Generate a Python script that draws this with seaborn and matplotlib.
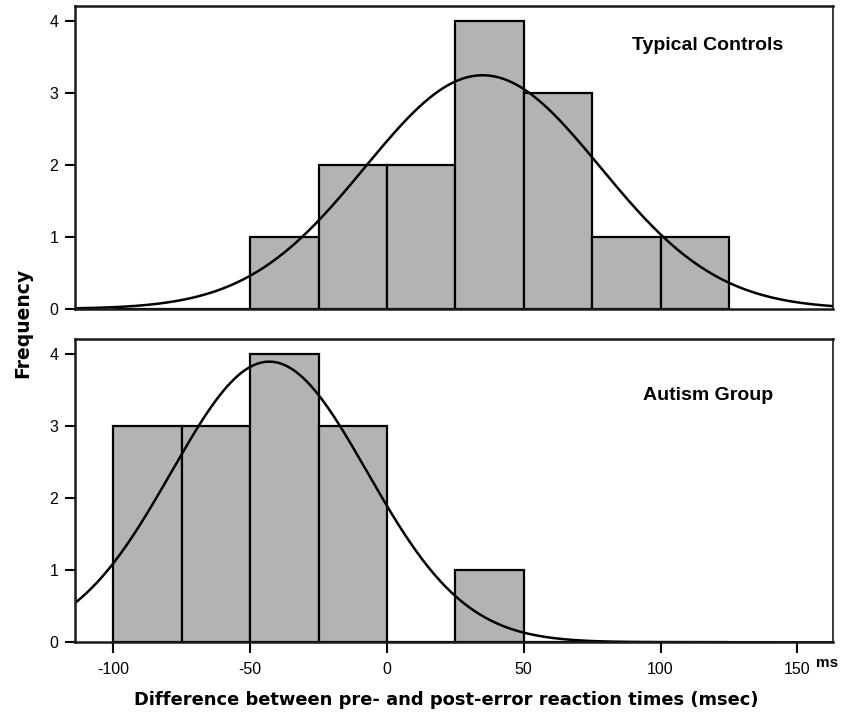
import numpy as np
import pandas as pd
import matplotlib
matplotlib.use("Agg")
import matplotlib.pyplot as plt
import seaborn as sns

# ---- data ----
bin_edges = [-100, -75, -50, -25, 0, 25, 50, 75, 100, 125]
controls_counts = [0, 0, 1, 2, 2, 4, 3, 1, 1]
autism_counts = [3, 3, 4, 3, 0, 1, 0, 0, 0]
controls_mean, controls_sd = 35.0, 43.0
autism_mean, autism_sd = -43.0, 35.8
group_labels = ["Typical Controls", "Autism Group"]
x_ticks = [-100, -50, 0, 50, 100, 150]
y_ticks = [0, 1, 2, 3, 4]

sns.set_theme(style="ticks")
plt.rcParams['font.family'] = ['Liberation Sans', 'DejaVu Sans']
plt.rcParams['text.color'] = 'black'
plt.rcParams['xtick.color'] = 'black'
plt.rcParams['ytick.color'] = 'black'

fig = plt.figure(figsize=(8.43, 7.2), dpi=100)
ax_top = fig.add_axes([0.089, 0.571, 0.899, 0.4207])
ax_bot = fig.add_axes([0.089, 0.108, 0.899, 0.4207])

centers = [(bin_edges[i] + bin_edges[i + 1]) / 2 for i in range(len(bin_edges) - 1)]
binwidth = bin_edges[1] - bin_edges[0]
xgrid = np.linspace(-114, 163, 400)

for ax, counts, mu, sd, label, tx, ty in [
    (ax_top, controls_counts, controls_mean, controls_sd, group_labels[0], 0.835, 0.871),
    (ax_bot, autism_counts, autism_mean, autism_sd, group_labels[1], 0.835, 0.815),
]:
    df = pd.DataFrame({"x": centers, "w": counts})
    sns.histplot(data=df, x="x", weights="w", bins=bin_edges, ax=ax,
                 color="#b3b3b3", edgecolor="black", linewidth=1.6, alpha=1)
    n = sum(counts)
    dens = n * binwidth / (sd * np.sqrt(2 * np.pi)) * np.exp(-0.5 * ((xgrid - mu) / sd) ** 2)
    sns.lineplot(x=xgrid, y=dens, ax=ax, color="black", linewidth=1.8)
    ax.set_xlim(-114, 163)
    ax.set_ylim(0, 4.21)
    ax.set_yticks(y_ticks)
    ax.set_ylabel("")
    ax.set_xlabel("")
    ax.tick_params(axis="y", direction="out", length=7, width=1.5, labelsize=11.5, pad=5)
    for s in ["left", "top", "bottom"]:
        ax.spines[s].set_linewidth(1.8)
    ax.spines["right"].set_linewidth(1.2)
    for s in ax.spines.values():
        s.set_visible(True)
        s.set_color("#1a1a1a")
    ax.text(tx, ty, label, transform=ax.transAxes, ha="center", va="center",
            fontsize=14, fontweight="bold")

ax_top.set_xticks([])
ax_bot.set_xticks(x_ticks)
ax_bot.set_xticklabels([str(t) for t in x_ticks])
ax_bot.tick_params(axis="x", direction="out", length=8, width=1.5, labelsize=11.5, pad=6)

fig.text(0.994, 0.079, "ms", ha="right", va="center", fontsize=11, fontweight="bold")
fig.text(0.529, 0.028, "Difference between pre- and post-error reaction times (msec)",
         ha="center", va="center", fontsize=12.9, fontweight="bold", family="DejaVu Sans")
fig.text(0.027, 0.551, "Frequency", ha="center", va="center", rotation=90,
         fontsize=13.5, fontweight="bold", family="DejaVu Sans")

fig.savefig("out.png", dpi=100)
